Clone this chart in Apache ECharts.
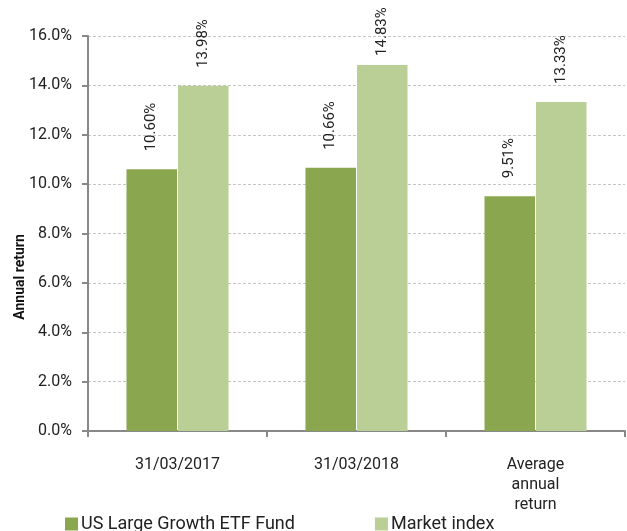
<!DOCTYPE html>
<html>
<head>
<meta charset="utf-8">
<script src="https://cdn.jsdelivr.net/npm/echarts@6/dist/echarts.min.js"></script>
<style>
  html, body { margin: 0; padding: 0; background: #fff; }
  #chart { width: 627px; height: 531px; }
</style>
</head>
<body>
<div id="chart"></div>
<script>
// data
var categories = ['31/03/2017', '31/03/2018', 'Average\nannual\nreturn'];
var fundReturns = [10.60, 10.66, 9.51];
var indexReturns = [13.98, 14.83, 13.33];
var seriesNames = ['US Large Growth ETF Fund', 'Market index'];

var chart = echarts.init(document.getElementById('chart'));

var valueLabel = {
  show: true,
  position: 'top',
  rotate: 90,
  align: 'left',
  verticalAlign: 'middle',
  distance: 18,
  color: '#222',
  fontFamily: 'Roboto',
  fontSize: 15,
  formatter: function (p) { return p.value.toFixed(2) + '%'; }
};

// the tallest bar's label sits closer so it stays inside the canvas
function withLabels(values) {
  var top = Math.max.apply(null, indexReturns);
  return values.map(function (v) {
    return v === top ? {value: v, label: {distance: 9}} : v;
  });
}

chart.setOption({
  animation: false,
  textStyle: { fontFamily: 'Roboto' },
  grid: { left: 88, right: 2, top: 36, bottom: 100 },
  legend: {
    left: 60,
    top: 510,
    itemWidth: 13,
    itemHeight: 13,
    itemGap: 80,
    icon: 'rect',
    textStyle: { fontSize: 18, color: '#222', padding: [0, 0, 0, -2] },
    data: seriesNames
  },
  graphic: [{
    type: 'text',
    x: 20,
    y: 277,
    rotation: Math.PI / 2,
    style: {
      text: 'Annual return',
      font: 'bold 14px Roboto',
      fill: '#111',
      align: 'center',
      verticalAlign: 'middle'
    }
  }],
  xAxis: {
    type: 'category',
    data: categories,
    axisLine: { lineStyle: { color: '#888', width: 2 } },
    axisTick: { show: true, length: 6, lineStyle: { color: '#888', width: 2 } },
    axisLabel: { color: '#222', fontSize: 16, margin: 24, lineHeight: 20 }
  },
  yAxis: {
    type: 'value',
    min: 0,
    max: 16,
    interval: 2,
    axisLine: { show: true, lineStyle: { color: '#888', width: 2 } },
    axisTick: { show: true, length: 6, lineStyle: { color: '#888', width: 2 } },
    axisLabel: {
      color: '#222',
      fontSize: 16,
      margin: 16,
      formatter: function (v) { return v.toFixed(1) + '%'; }
    },
    splitLine: { lineStyle: { color: '#c4c4c4', type: [3, 2], width: 1 } }
  },
  series: [
    {
      name: seriesNames[0],
      type: 'bar',
      data: fundReturns,
      barGap: '2%',
      barCategoryGap: '43%',
      itemStyle: { color: '#8aa74f' },
      label: valueLabel
    },
    {
      name: seriesNames[1],
      type: 'bar',
      data: withLabels(indexReturns),
      itemStyle: { color: '#bacf96' },
      label: valueLabel
    }
  ]
});
</script>
</body>
</html>
